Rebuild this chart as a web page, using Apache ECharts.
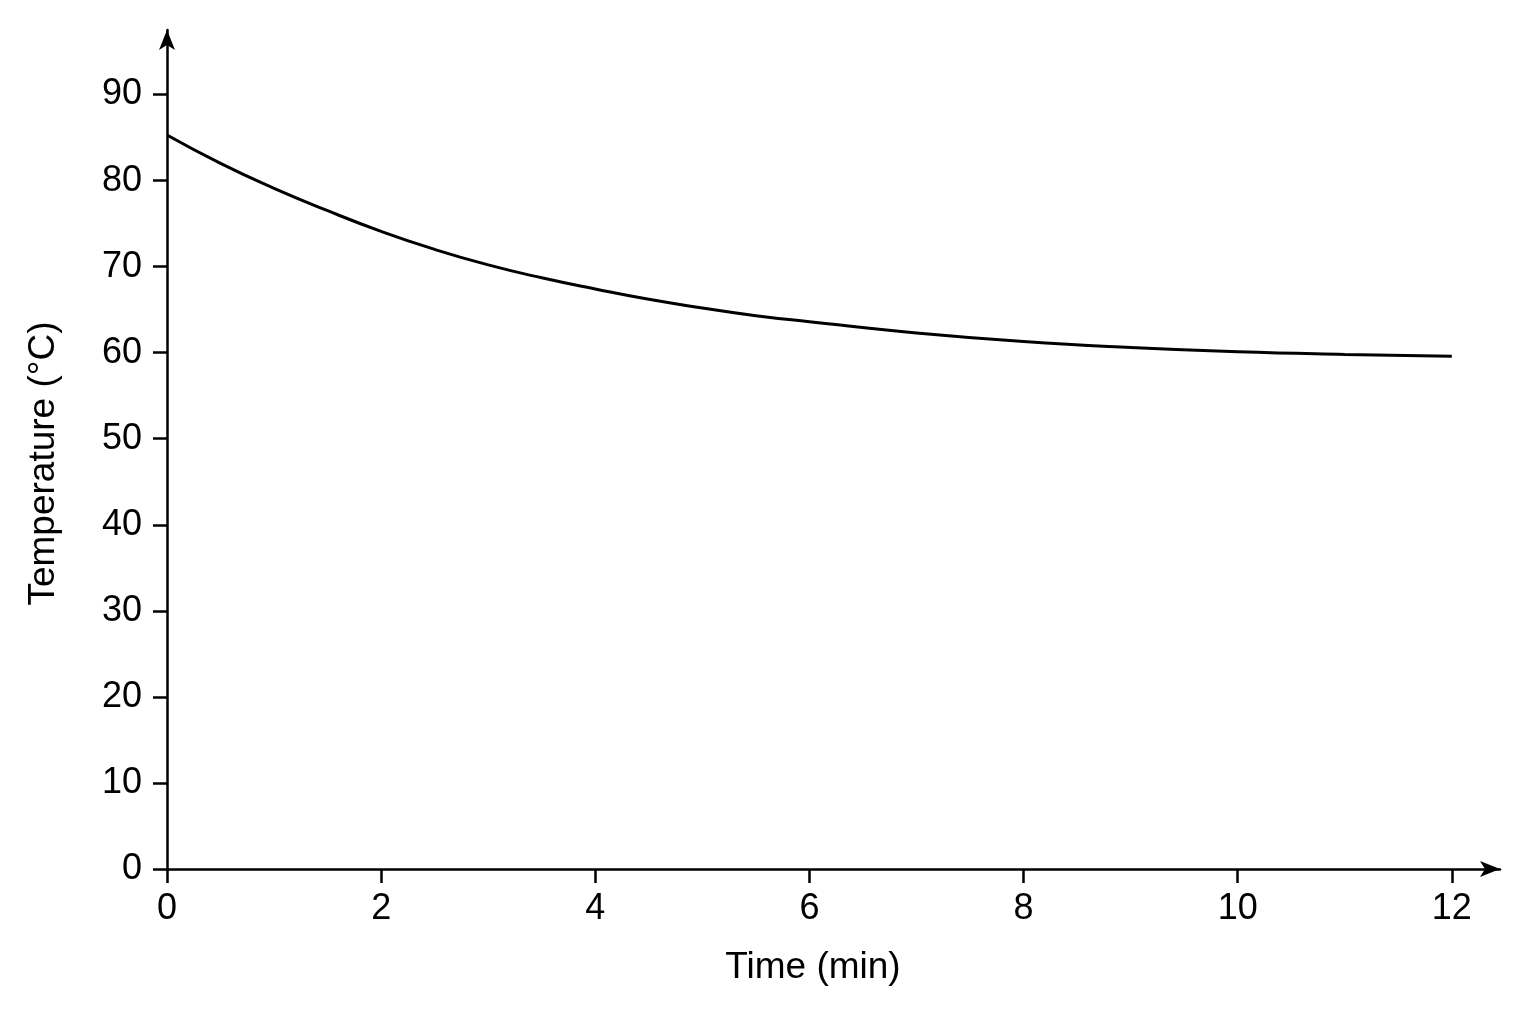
<!DOCTYPE html>
<html>
<head>
<meta charset="utf-8">
<script src="https://cdn.jsdelivr.net/npm/echarts@6/dist/echarts.min.js"></script>
<style>
html,body{margin:0;padding:0;background:#fff;}
#chart{width:1536px;height:1024px;}
</style>
</head>
<body>
<div id="chart"></div>
<script>
// Time (min)
const timeMin = [0, 0.5, 1, 1.5, 2, 2.5, 3, 3.5, 4, 4.5, 5, 5.5, 6, 7, 8, 9, 10, 11, 12];
// Temperature (°C)
const temperature = [85.3, 82.0, 79.1, 76.5, 74.1, 72.0, 70.2, 68.7, 67.4, 66.2, 65.2, 64.3, 63.6, 62.3, 61.3, 60.6, 60.1, 59.8, 59.6];
const xTicks = [0, 2, 4, 6, 8, 10, 12];
const yTicks = [0, 10, 20, 30, 40, 50, 60, 70, 80, 90];

const font = 'Liberation Sans, Arial, sans-serif';
const ink = '#000';
const chart = echarts.init(document.getElementById('chart'));
chart.setOption({
  backgroundColor: '#fff',
  animation: false,
  grid: { left: 167, right: 36, top: 30, bottom: 155, containLabel: false },
  xAxis: {
    type: 'value', min: 0, max: 12.45,
    name: 'Time (min)', nameLocation: 'middle', nameGap: 80,
    nameTextStyle: { fontFamily: font, fontSize: 37, color: ink, padding: [0, 41, 0, 0] },
    axisLine: { show: true, symbol: ['none', 'arrow'], symbolSize: [12, 20], lineStyle: { color: ink, width: 2.5 } },
    axisTick: { show: true, length: 14, customValues: xTicks, lineStyle: { color: ink, width: 2.5 } },
    axisLabel: { customValues: xTicks, margin: 22, fontFamily: font, fontSize: 36, color: ink },
    splitLine: { show: false }
  },
  yAxis: {
    type: 'value', min: 0, max: 97.5,
    name: 'Temperature (°C)', nameLocation: 'middle', nameGap: 105,
    nameTextStyle: { fontFamily: font, fontSize: 37, color: ink, padding: [0, 28, 0, 0] },
    axisLine: { show: true, symbol: ['none', 'arrow'], symbolSize: [12, 20], lineStyle: { color: ink, width: 2.5 } },
    axisTick: { show: true, length: 14, customValues: yTicks, lineStyle: { color: ink, width: 2.5 } },
    axisLabel: { customValues: yTicks, margin: 25, fontFamily: font, fontSize: 36, color: ink },
    splitLine: { show: false }
  },
  series: [{
    type: 'line',
    data: timeMin.map((t, i) => [t, temperature[i]]),
    smooth: true,
    showSymbol: false,
    lineStyle: { color: ink, width: 3 }
  }]
});
</script>
</body>
</html>
